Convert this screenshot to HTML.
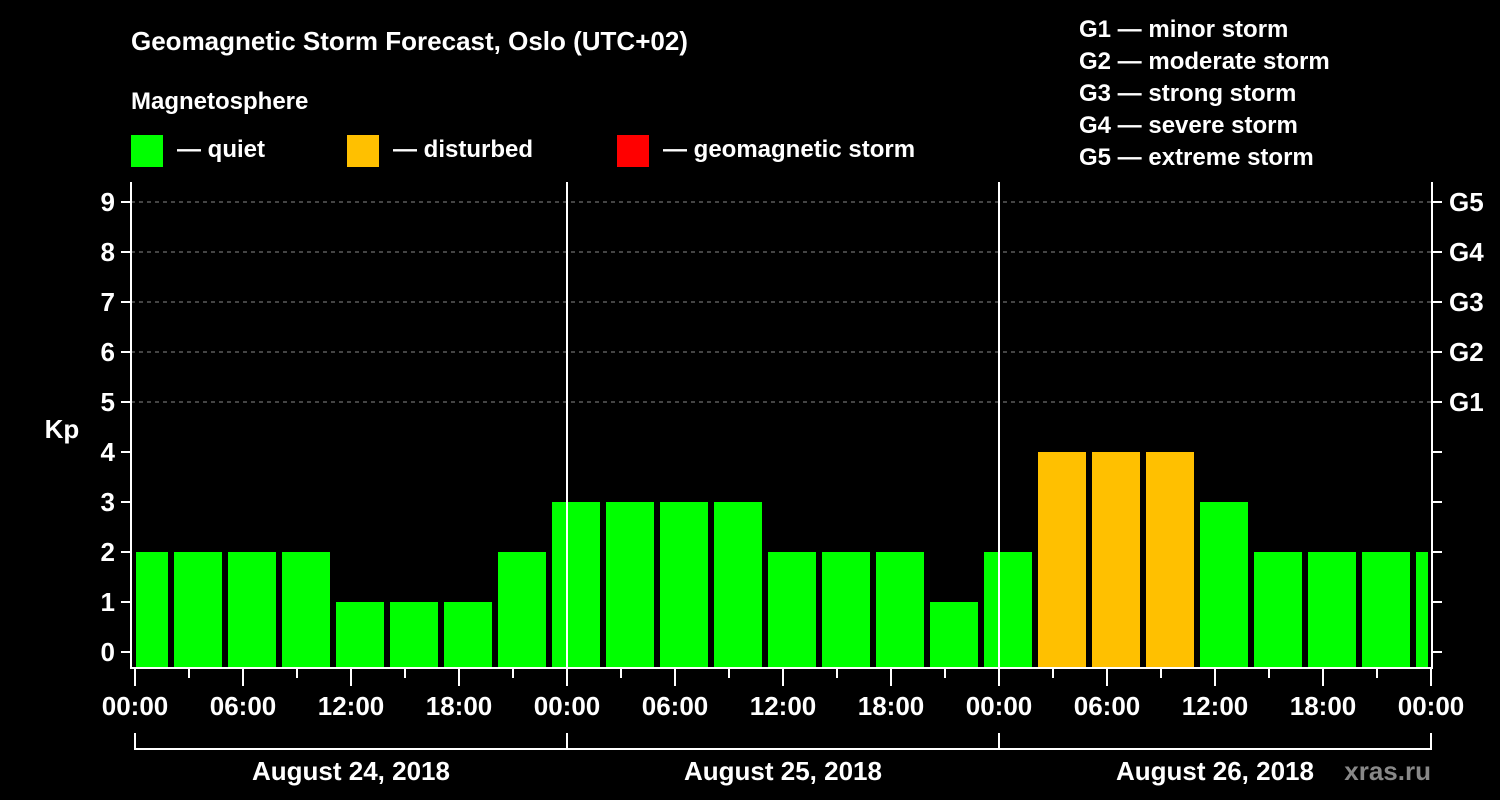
<!DOCTYPE html>
<html><head><meta charset="utf-8"><style>
html,body{margin:0;padding:0;background:#000;}
svg{display:block;font-family:"Liberation Sans",Arial,sans-serif;font-weight:bold;}
</style></head><body>
<svg id="chart" width="1500" height="800" viewBox="0 0 1500 800">
<rect x="0" y="0" width="1500" height="800" fill="#000"/>
<text x="131" y="50" fill="#fff" font-size="26">Geomagnetic Storm Forecast, Oslo (UTC+02)</text>
<text x="131" y="109" fill="#fff" font-size="24">Magnetosphere</text>
<g><rect x="131" y="135" width="32" height="32" fill="#00ff00"/><text x="177" y="157" fill="#fff" font-size="24">— quiet</text></g>
<g><rect x="347" y="135" width="32" height="32" fill="#ffc000"/><text x="393" y="157" fill="#fff" font-size="24">— disturbed</text></g>
<g><rect x="617" y="135" width="32" height="32" fill="#ff0000"/><text x="663" y="157" fill="#fff" font-size="24">— geomagnetic storm</text></g>
<g fill="#fff" font-size="24">
<text x="1079" y="37">G1 — minor storm</text>
<text x="1079" y="69">G2 — moderate storm</text>
<text x="1079" y="101">G3 — strong storm</text>
<text x="1079" y="133">G4 — severe storm</text>
<text x="1079" y="165">G5 — extreme storm</text>
</g>
<text x="62" y="438" fill="#fff" font-size="26" text-anchor="middle">Kp</text>
<text x="1431" y="780" fill="#888" font-size="26" text-anchor="end">xras.ru</text>
<g id="marks"></g>
</svg>
<script>
const kpValues=[2,2,2,2,1,1,1,2,3,3,3,3,2,2,2,1,2,4,4,4,3,2,2,2,2];
const barHours=[0.5,3.5,6.5,9.5,12.5,15.5,18.5,21.5,24.5,27.5,30.5,33.5,36.5,39.5,42.5,45.5,48.5,51.5,54.5,57.5,60.5,63.5,66.5,69.5,72.5];
const yTicks=[0,1,2,3,4,5,6,7,8,9];
const gLabels=["G1","G2","G3","G4","G5"];
const xTickLabels=["00:00","06:00","12:00","18:00","00:00","06:00","12:00","18:00","00:00","06:00","12:00","18:00","00:00"];
const dayLabels=["August 24, 2018","August 25, 2018","August 26, 2018"];

const X0=135,PXH=18,XL=131,XR=1432,YB=668,YT=182;
const x=h=>X0+h*PXH;
const y=v=>652-v*50;
const NS="http://www.w3.org/2000/svg";
const g=document.getElementById('marks');
function mk(tag,attrs,parent){const e=document.createElementNS(NS,tag);for(const k in attrs)e.setAttribute(k,attrs[k]);(parent||g).appendChild(e);return e;}

// grid
for(let i=0;i<gLabels.length;i++){
  const l=mk('line',{x1:XL,x2:XR,y1:y(5+i),y2:y(5+i),stroke:'#888','stroke-dasharray':'4,4','stroke-width':1});
  
  
}
// bars
const clip=mk('clipPath',{id:'plotclip'});
mk('rect',{x:XL+5,y:YT,width:XR-XL-9,height:YB-YT},clip);
const bg=mk('g',{'clip-path':'url(#plotclip)'});
kpValues.forEach((v,i)=>{
  const c=x(barHours[i]);
  const col=v>=5?'#ff0000':(v>=4?'#ffc000':'#00ff00');
  const r=mk('rect',{x:c-24,y:y(v),width:48,height:YB-y(v),fill:col},bg);
  
  
});
// day separators
[24,48].forEach(h=>{
  const l=mk('line',{x1:x(h),x2:x(h),y1:YT,y2:YB,stroke:'#fff','stroke-width':2});
  
  
});
// axes
mk('line',{x1:XL,x2:XL,y1:YT,y2:YB+1,stroke:'#fff','stroke-width':2});
mk('line',{x1:XR,x2:XR,y1:YT,y2:YB+1,stroke:'#fff','stroke-width':2});
mk('line',{x1:XL,x2:XR,y1:YB,y2:YB,stroke:'#fff','stroke-width':2});
yTicks.forEach(v=>{
  mk('line',{x1:XL-10,x2:XL,y1:y(v),y2:y(v),stroke:'#fff','stroke-width':2});
  mk('line',{x1:XR,x2:XR+10,y1:y(v),y2:y(v),stroke:'#fff','stroke-width':2});
  const t=mk('text',{x:XL-16,y:y(v)+9,fill:'#fff','font-size':26,'text-anchor':'end'});
  t.textContent=v;
  
  
});
gLabels.forEach((s,i)=>{
  const t=mk('text',{x:XR+17,y:y(5+i)+9,fill:'#fff','font-size':26});
  t.textContent=s;
  
  
});
for(let h=0;h<=72;h+=3){
  const major=h%6===0;
  mk('line',{x1:x(h),x2:x(h),y1:YB,y2:YB+(major?18:10),stroke:'#fff','stroke-width':2});
}
xTickLabels.forEach((s,i)=>{
  const t=mk('text',{x:x(i*6),y:715,fill:'#fff','font-size':26,'text-anchor':'middle'});
  t.textContent=s;
  
  
});
// day brackets
mk('line',{x1:x(0),x2:XR,y1:749,y2:749,stroke:'#fff','stroke-width':2});
[0,24,48,72].forEach(h=>mk('line',{x1:Math.min(x(h),XR-1),x2:Math.min(x(h),XR-1),y1:733,y2:750,stroke:'#fff','stroke-width':2}));
dayLabels.forEach((s,i)=>{
  const t=mk('text',{x:x(i*24+12),y:780,fill:'#fff','font-size':26,'text-anchor':'middle'});
  t.textContent=s;
  
  
});
</script>
</body></html>
